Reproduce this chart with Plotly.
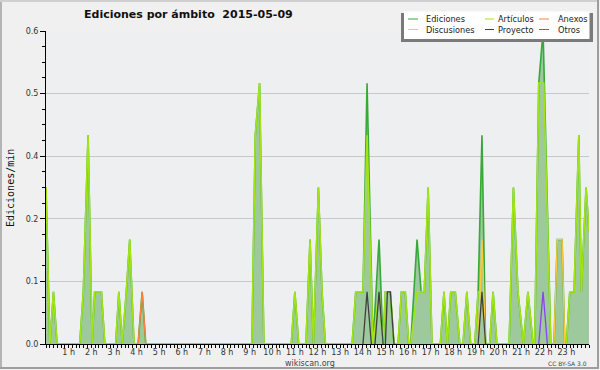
import plotly.graph_objects as go

# ---------------- data (hours of day, edits/min) ----------------
ed_t = [0.00, 0.17, 0.33, 0.49, 1.49, 1.65, 1.86, 2.04, 2.15, 2.45, 2.60,
        3.08, 3.22, 3.37, 3.55, 3.70, 3.89, 4.07, 4.25, 4.41,
        9.10, 9.25, 9.44, 9.63, 10.84, 11.00, 11.17, 11.49, 11.67, 11.82,
        12.04, 12.20, 12.35, 13.53, 13.69, 14.01, 14.19, 14.45, 14.72, 14.90,
        15.00, 15.22, 15.38, 15.56, 15.71, 15.88, 16.03, 16.12, 16.40, 16.58,
        16.72, 16.89, 17.06, 17.43, 17.59, 17.74, 17.89, 18.09, 18.29, 18.43,
        18.60, 18.77, 18.95, 19.10, 19.27, 19.43, 19.61, 19.76, 19.93, 20.47,
        20.66, 20.86, 21.10, 21.30, 21.53, 21.60, 21.78, 21.97, 22.31, 22.45,
        22.60, 22.81, 22.93, 23.00, 23.15, 23.34, 23.55, 23.66, 23.87, 24.00]
ed_v = [0.25, 0, 0.0833, 0, 0, 0.0833, 0.3333, 0, 0.0833, 0.0833, 0,
        0, 0.0833, 0, 0.0833, 0.1667, 0, 0, 0.0833, 0,
        0, 0.3333, 0.4167, 0, 0, 0.0833, 0, 0, 0.1667, 0,
        0.25, 0.0833, 0, 0, 0.0833, 0.0833, 0.4167, 0, 0.1667, 0,
        0.0833, 0.0833, 0, 0, 0.0833, 0.0833, 0, 0, 0.1667, 0.0833,
        0.0833, 0.25, 0, 0, 0.0833, 0, 0.0833, 0.0833, 0, 0,
        0.0833, 0, 0, 0.0833, 0.3333, 0, 0, 0.0833, 0, 0,
        0.25, 0.0833, 0, 0.0833, 0, 0, 0.4167, 0.5, 0, 0,
        0.1667, 0.1667, 0, 0, 0.0833, 0.0833, 0.3333, 0.0833, 0.25, 0.18]

art_t = [0.00, 0.17, 0.33, 0.49, 1.49, 1.65, 1.86, 2.04, 2.15, 2.45, 2.60,
         3.08, 3.22, 3.37, 3.55, 3.70, 3.89,
         9.10, 9.25, 9.44, 9.63, 10.84, 11.00, 11.17, 11.49, 11.67, 11.82,
         12.04, 12.20, 12.35, 13.53, 13.69, 14.01, 14.19, 14.45, 14.72, 14.90,
         15.00, 15.22, 15.38, 15.56, 15.71, 15.88, 16.03, 16.12, 16.40, 16.58,
         16.72, 16.89, 17.06, 17.43, 17.59, 17.74, 17.89, 18.09, 18.29, 18.43,
         18.60, 18.77, 18.95, 19.10, 19.27, 19.43, 19.61, 19.76, 19.93, 20.47,
         20.66, 20.86, 21.10, 21.30, 21.53, 21.60, 21.78, 22.00, 22.31,
         23.00, 23.15, 23.34, 23.55, 23.66, 23.87, 24.00]
art_v = [0.25, 0, 0.0833, 0, 0, 0.0833, 0.3333, 0, 0.0833, 0.0833, 0,
         0, 0.0833, 0, 0.0833, 0.1667, 0,
         0, 0.3333, 0.4167, 0, 0, 0.0833, 0, 0, 0.1667, 0,
         0.25, 0.0833, 0, 0, 0.0833, 0.0833, 0.3333, 0, 0.0833, 0,
         0.0833, 0.0833, 0, 0, 0.0833, 0.0833, 0, 0, 0.0833, 0.0833,
         0.0833, 0.25, 0, 0, 0.0833, 0, 0.0833, 0.0833, 0, 0,
         0.0833, 0, 0, 0.0833, 0.0833, 0, 0, 0.0833, 0, 0,
         0.25, 0.0833, 0, 0.0833, 0, 0, 0.4167, 0.4167, 0,
         0, 0.0833, 0.0833, 0.3333, 0.0833, 0.25, 0.18]

anx_t = [4.07, 4.25, 4.41]
anx_v = [0, 0.0833, 0]

dis_t = [19.10, 19.27, 19.43, None, 22.45, 22.60, 22.81, 22.93]
dis_v = [0, 0.1667, 0, None, 0, 0.1667, 0.1667, 0]

pro_t = [14.01, 14.19, 14.38, None, 14.54, 14.72, 14.90, None,
         15.00, 15.09, 15.22, 15.38, None, 19.10, 19.27, 19.43]
pro_v = [0, 0.0833, 0, None, 0, 0.0833, 0, None,
         0, 0.0833, 0.0833, 0, None, 0, 0.0833, 0]

otr_t = [21.78, 21.97, 22.16]
otr_v = [0, 0.0833, 0]

hour_ticks = list(range(1, 24))
hour_labels = [f"{h} h" for h in hour_ticks]
y_ticks = [0, 0.1, 0.2, 0.3, 0.4, 0.5]
y_labels = ["0.0", "0.1", "0.2", "0.4", "0.5", "0.6"]

series_names = ["Ediciones", "Artículos", "Anexos", "Discusiones", "Proyecto", "Otros"]
series_colors = ["#38a838", "#a2e416", "#ff8040", "#ffc83c", "#404040", "#8844ee"]

# ---------------- layout geometry ----------------
W, H = 600, 370
ML, MR, MT, MB = 46, 11, 31, 26
PW = W - ML - MR
PH = H - MT - MB


def px(x):
    return (x - ML) / PW


def py(y):
    return (H - MB - y) / PH


fig = go.Figure()
fig.add_trace(go.Scatter(x=ed_t, y=ed_v, mode="lines", fill="tozeroy",
                         fillcolor="#9dc99d",
                         line=dict(color=series_colors[0], width=1.6),
                         hoverinfo="skip", showlegend=False))
fig.add_trace(go.Scatter(x=art_t, y=art_v, mode="lines",
                         line=dict(color=series_colors[1], width=1.6),
                         hoverinfo="skip", showlegend=False))
for t, v, c in [(anx_t, anx_v, series_colors[2]), (dis_t, dis_v, series_colors[3]),
                (pro_t, pro_v, series_colors[4]), (otr_t, otr_v, series_colors[5])]:
    fig.add_trace(go.Scatter(x=t, y=v, mode="lines", connectgaps=False,
                             line=dict(color=c, width=1.3),
                             hoverinfo="skip", showlegend=False))

tickfont = dict(family="DejaVu Sans", size=8, color="#333333")

fig.update_xaxes(range=[0, 24], tickvals=hour_ticks, ticktext=hour_labels,
                 ticks="outside", ticklen=3, tickcolor="black", tickwidth=1,
                 ticklabelstandoff=-3,
                 showline=True, linecolor="black", linewidth=1,
                 showgrid=False, zeroline=False, tickfont=tickfont,
                 minor=dict(dtick=1 / 6, tick0=0, ticks="outside", ticklen=3,
                            tickcolor="black", showgrid=False))
fig.update_yaxes(range=[0, 0.5], tickvals=y_ticks, ticktext=y_labels,
                 ticks="outside", ticklen=5, tickcolor="black", tickwidth=1,
                 showline=True, linecolor="black", linewidth=1,
                 showgrid=True, gridcolor="#c8c8c8", gridwidth=1,
                 zeroline=False, tickfont=tickfont,
                 minor=dict(dtick=0.025, tick0=0, ticks="outside", ticklen=3,
                            tickcolor="black", showgrid=False))

shapes = []
annotations = []

# frame
shapes.append(dict(type="line", xref="paper", yref="paper", x0=px(1), x1=px(1),
                   y0=py(0), y1=py(369), line=dict(color="#b4b4b4", width=2)))
shapes.append(dict(type="line", xref="paper", yref="paper", x0=px(0), x1=px(599),
                   y0=py(1), y1=py(1), line=dict(color="#d0d0d0", width=2)))
shapes.append(dict(type="line", xref="paper", yref="paper", x0=px(598), x1=px(598),
                   y0=py(0), y1=py(369), line=dict(color="#9e9e9e", width=2)))
shapes.append(dict(type="line", xref="paper", yref="paper", x0=px(0), x1=px(599),
                   y0=py(368), y1=py(368), line=dict(color="#9e9e9e", width=2)))

# legend box with shadow
shapes.append(dict(type="rect", xref="paper", yref="paper", x0=px(401), x1=px(593),
                   y0=py(42), y1=py(13), fillcolor="#7a7a7a", line=dict(width=0)))
shapes.append(dict(type="rect", xref="paper", yref="paper", x0=px(404), x1=px(589.5),
                   y0=py(39), y1=py(11.5), fillcolor="white", line=dict(width=0)))

leg_cols = [(408, 418, 424), (485, 494, 496), (539, 549, 556)]
leg_rows = [19, 29.5]
legfont = dict(family="DejaVu Sans", size=8.2, color="#222222")
for k, (name, col) in enumerate(zip(series_names, series_colors)):
    r, c = divmod(k, 3)
    x0, x1, xt = leg_cols[c]
    yy = leg_rows[r]
    shapes.append(dict(type="line", xref="paper", yref="paper", x0=px(x0), x1=px(x1),
                       y0=py(yy), y1=py(yy), line=dict(color=col, width=1)))
    annotations.append(dict(text=name, xref="paper", yref="paper", x=px(xt), y=py(yy),
                            xanchor="left", yanchor="middle", showarrow=False,
                            font=legfont))

# title
annotations.append(dict(text="<b>Ediciones por ámbito \u00a02015-05-09</b>",
                        xref="paper", yref="paper", x=px(188), y=py(14.5),
                        xanchor="center", yanchor="middle", showarrow=False,
                        font=dict(family="DejaVu Sans", size=11, color="#111111")))
# y title
annotations.append(dict(text="Ediciones/min", xref="paper", yref="paper",
                        x=px(10), y=py(188), textangle=-90,
                        xanchor="center", yanchor="middle", showarrow=False,
                        font=dict(family="DejaVu Sans Mono", size=10, color="#111111")))
# footer
annotations.append(dict(text="wikiscan.org", xref="paper", yref="paper",
                        x=px(310), y=py(363.5), xanchor="center", yanchor="middle",
                        showarrow=False,
                        font=dict(family="DejaVu Sans", size=8, color="#444444")))
annotations.append(dict(text="CC BY-SA 3.0", xref="paper", yref="paper",
                        x=px(589), y=py(363.5), xanchor="right", yanchor="middle",
                        showarrow=False,
                        font=dict(family="DejaVu Sans", size=6, color="#444444")))

fig.update_layout(width=W, height=H, autosize=False,
                  margin=dict(l=ML, r=MR, t=MT, b=MB, pad=0),
                  paper_bgcolor="#f0f0f0", plot_bgcolor="#edeff1",
                  showlegend=False, shapes=shapes, annotations=annotations)

fig.write_html("out.html", config={"displayModeBar": False, "staticPlot": True},
               post_script="document.body.style.margin='0';document.body.style.padding='0';")
